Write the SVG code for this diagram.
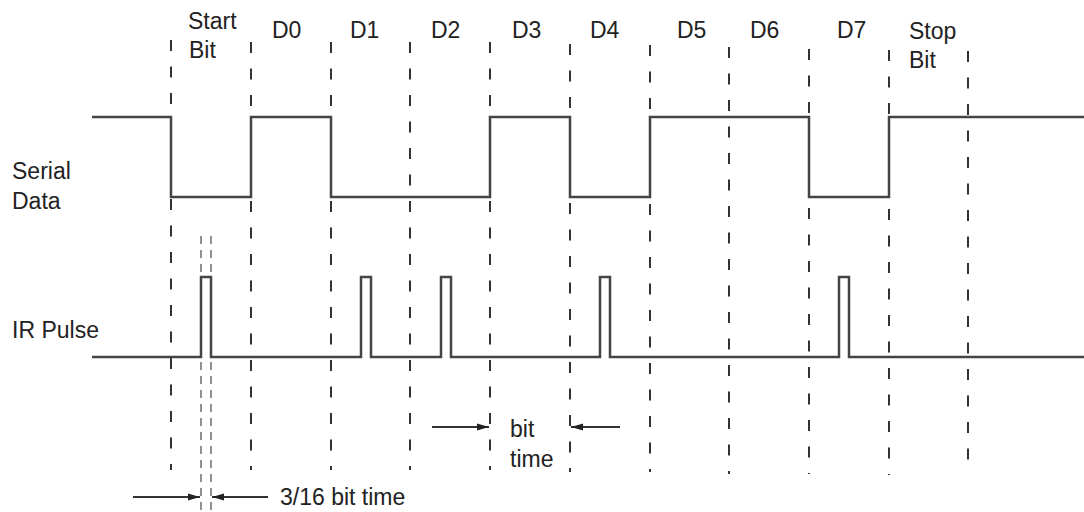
<svg xmlns="http://www.w3.org/2000/svg" width="1084" height="512" viewBox="0 0 1084 512">
<style>
text{font-family:"Liberation Sans",Arial,sans-serif;font-size:23px;fill:#222}
.sig{fill:none;stroke:#444;stroke-width:2.5;stroke-linejoin:miter}
.grid{stroke:#333;stroke-width:2;stroke-dasharray:11 15.5}
.thin{stroke:#555;stroke-width:1.3;stroke-dasharray:8 6}
.arr{stroke:#333;stroke-width:2;fill:none}
</style>
<defs>
<marker id="ah" viewBox="0 0 12 8" refX="12" refY="4" markerWidth="12" markerHeight="8" markerUnits="userSpaceOnUse" orient="auto">
<path d="M0,0.5 L12,4 L0,7.5 Z" fill="#222"/>
</marker>
</defs>
<g id="grid">
<line class="grid" x1="171" y1="40" x2="171" y2="470"/>
<line class="grid" x1="251" y1="42" x2="251" y2="470"/>
<line class="grid" x1="331" y1="42" x2="331" y2="470"/>
<line class="grid" x1="410" y1="42" x2="410" y2="470"/>
<line class="grid" x1="490" y1="42" x2="490" y2="470"/>
<line class="grid" x1="570" y1="44" x2="570" y2="472"/>
<line class="grid" x1="650" y1="45" x2="650" y2="472"/>
<line class="grid" x1="729" y1="47" x2="729" y2="474"/>
<line class="grid" x1="809" y1="49" x2="809" y2="474"/>
<line class="grid" x1="889" y1="50" x2="889" y2="475"/>
<line class="grid" x1="968" y1="51" x2="968" y2="475"/>
<line class="thin" x1="201" y1="236" x2="201" y2="512"/>
<line class="thin" x1="211" y1="236" x2="211" y2="512"/>
</g>
<g id="serial-data">
<polyline class="sig" points="92,117 171,117 171,197 251,197 251,117 331,117 331,197 490,197 490,117 570,117 570,197 650,197 650,117 809,117 809,197 889,197 889,117 1084,117"/>
</g>
<g id="ir-pulse">
<polyline class="sig" points="92,357 201,357 201,277 211,277 211,357 361,357 361,277 371,277 371,357 441,357 441,277 451,277 451,357 600,357 600,277 610,277 610,357 839,357 839,277 849,277 849,357 1084,357"/>
</g>
<g id="labels">
<text x="188" y="29">Start</text>
<text x="189" y="58">Bit</text>
<text x="272" y="38">D0</text>
<text x="350" y="38">D1</text>
<text x="431" y="38">D2</text>
<text x="512" y="38">D3</text>
<text x="590" y="38">D4</text>
<text x="677" y="38">D5</text>
<text x="750" y="38">D6</text>
<text x="837" y="38">D7</text>
<text x="909" y="39">Stop</text>
<text x="909" y="68">Bit</text>
<text x="12" y="179">Serial</text>
<text x="12" y="209">Data</text>
<text x="12" y="338">IR Pulse</text>
<text x="510" y="437">bit</text>
<text x="510" y="467">time</text>
<text x="280" y="505">3/16 bit time</text>
</g>
<g id="connectors">
<line class="arr" x1="432" y1="427" x2="489" y2="427" marker-end="url(#ah)"/>
<line class="arr" x1="620" y1="427" x2="571" y2="427" marker-end="url(#ah)"/>
<line class="arr" x1="133" y1="497" x2="200" y2="497" marker-end="url(#ah)"/>
<line class="arr" x1="268" y1="497" x2="212" y2="497" marker-end="url(#ah)"/>
</g>
</svg>
